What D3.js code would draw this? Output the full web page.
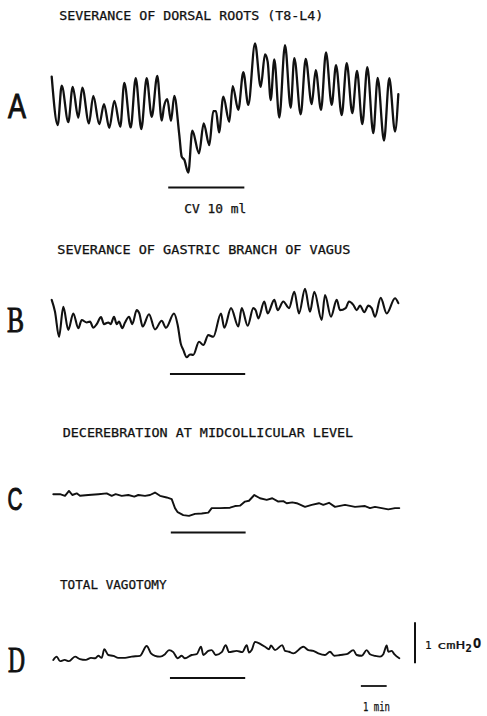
<!DOCTYPE html>
<html><head><meta charset="utf-8">
<script src="https://cdn.jsdelivr.net/npm/d3@7"></script>
<style>html,body{margin:0;padding:0;background:#fff;}svg{display:block;}</style>
</head><body>
<script>
// ---- data (time in s, pressure in cmH2O relative to pre-stimulus level) ----
const panelLetters = ["A","B","C","D"];
const panelTitles = [
  "SEVERANCE OF DORSAL ROOTS (T8-L4)",
  "SEVERANCE OF GASTRIC BRANCH OF VAGUS",
  "DECEREBRATION AT MIDCOLLICULAR LEVEL",
  "TOTAL VAGOTOMY"
];
const stimulusLabel = "CV 10 ml";

const timeA = [0,14,23.3,38.6,48.8,61.9,71.2,86.7,96.7,110.7,
  121.6,134,145.6,159.5,168.8,183.7,195.4,208.4,220.9,232.6,
  245.6,255.8,261.2,268.8,277.4,285.1,296.7,302.3,308.4,317.7,
  327,342.6,353.5,366.5,375.8,382.1,389.1,399.1,413,420.9,
  434,445.6,457.2,472.8,486.1,496.1,502.3,509.3,517.7,529.3,
  542.6,555.8,564.2,579.1,590.7,604.7,614,626.3,637.9,651.2,
  661.2,674.4,686.1,699.1,710,722.3,734,747.9,758.1,772.8,
  785.1,798.4,806.1];
const pressA = [0.57,-0.61,0.35,-0.54,0.32,-0.43,0.30,-0.57,0.10,-0.59,
  -0.10,-0.68,-0.02,-0.65,0.42,-0.67,0.53,-0.71,0.53,-0.41,
  0.59,-0.50,-0.16,0.02,-0.51,0.10,-0.85,-1.38,-1.46,-1.77,
  -0.75,-1.30,-0.57,-1.10,-0.27,-0.27,-0.79,0.08,-0.53,0.34,
  -0.24,0.68,-0.12,1.38,0.32,1.11,0.93,0,0.99,-0.43,
  1.34,-0.19,1.02,-0.35,1.00,-0.10,0.73,-0.24,1.16,-0.12,
  0.85,-0.37,0.90,-0.32,0.71,-0.59,0.80,-0.81,0.54,-0.99,
  0.53,-0.77,0.14];

const timeB = [0,7.7,17,27,38.6,50.2,61.9,69.8,81.4,
  89.1,96.7,104.7,114.7,121.6,131.6,137.2,144.9,151.2,156.5,
  164.2,170.5,179.8,187.4,197.7,203.7,211.6,226.3,240.2,255.8,
  265.8,284.4,293,300,306,314,321.6,329.3,342.6,352.6,
  364.2,375.8,393.7,401.4,417,434,441.9,455.8,468.8,474.4,
  480.5,494.4,502.3,517.7,525.6,538.6,551.9,564.2,575.1,589.1,
  600.7,610.7,627.9,635.6,649.5,662.8,670.5,683.7,691.4,701.4,
  709.3,717,727,736.3,744.2,751.9,765.1,779.1,798.4,806.1];
const pressB = [0.49,0.20,-0.41,0.32,-0.24,0.16,-0.20,0,-0.06,
  -0.04,-0.19,-0.10,0.07,-0.10,-0.06,-0.10,0.08,-0.10,-0.04,
  -0.20,-0.06,0.08,-0.10,0.24,0.16,-0.16,0.14,-0.23,-0.02,
  -0.19,0.16,-0.12,-0.57,-0.73,-0.91,-0.84,-0.85,-0.53,-0.61,
  -0.37,-0.41,0.16,-0.19,0.29,-0.16,0.29,-0.14,0.29,0.24,
  0.04,0.45,0.16,0.49,0.24,0.45,0.29,0.69,0.16,0.76,
  0.20,0.69,0,0.61,0.08,0.49,0.24,0.29,0.45,0.37,
  0.24,0.35,0.19,0.35,0.29,0.08,0.54,0.16,0.53,0.41];

const timeC = [3.7,19.3,30.9,40.2,47.9,58.1,65.8,85.1,108.4,127.9,
  139.5,148.8,162.8,178.1,192.1,201.4,217,228.6,240.2,251.9,
  267.4,279.1,286.7,293,306,319.3,333.3,348.8,364.2,372.1,
  391.4,414.7,426.3,437.9,449.5,458.8,471.2,484.4,500,513,
  527,538.6,546.5,559.5,569.8,589.1,604.7,621.6,631.6,644.9,
  658.8,682.1,705.4,728.6,740.2,751.9,767.4,782.8,798.4,808.4];
const pressC = [0.02,0.02,-0.02,0.10,0,0.04,-0.02,0,0.02,0.04,
  -0.02,0.02,-0.02,0,-0.04,0,-0.02,0,0.06,-0.02,
  -0.06,-0.10,-0.32,-0.42,-0.49,-0.51,-0.46,-0.45,-0.43,-0.32,
  -0.32,-0.31,-0.27,-0.26,-0.16,-0.14,0,-0.08,-0.12,-0.08,
  -0.16,-0.15,-0.20,-0.18,-0.20,-0.29,-0.24,-0.20,-0.24,-0.19,
  -0.29,-0.24,-0.29,-0.27,-0.32,-0.29,-0.32,-0.35,-0.32,-0.32];

const timeD = [3.7,11.6,19.3,30.2,40.2,54.2,65.8,79.1,91.4,100.7,
  108.4,116.3,122.3,131.6,143.3,154.9,170.5,186,205.4,220.9,
  230.9,240.2,251.9,263.5,272.8,282.8,293,302.3,310,325.6,
  337.2,347.2,352.6,364.2,372.1,381.4,395.4,404.7,412.3,430.2,
  443.3,453.5,458.8,465.1,472.8,486.7,496.1,505.4,510,519.3,
  536.3,542.6,551.9,561.9,585.1,596.8,608.4,620,635.6,647.2,
  657.2,670.5,686.1,701.4,709.3,720.9,732.6,740.2,751.9,763.5,
  771.2,779.1,782.8,790.7,796.7,808.4];
const pressD = [-0.12,-0.04,-0.15,-0.12,-0.15,-0.04,-0.10,-0.12,-0.07,-0.08,
  -0.02,-0.07,0.14,0,-0.02,-0.07,-0.07,-0.04,-0.02,0.22,
  0.04,-0.02,-0.04,0.02,0.12,0.07,-0.08,-0.02,-0.08,0,
  0.02,0.20,0,0.10,0.12,0,0.07,0.24,0.07,0.10,
  0.07,0.24,0.06,0.12,0.32,0.26,0.20,0.14,0.23,0.12,
  0.24,0.10,0.08,0.04,0.20,0.12,0.10,0.04,0,0.08,
  -0.02,0,0.02,0.12,0,-0.02,0.12,0.02,-0.02,-0.04,
  0.02,0.23,0.08,0.10,0.02,-0.08];

const stimA = [271, 448];
const stimB = [275, 450];
const stimC = [277, 451];
const stimD = [275, 450];
const timeScaleBar = [719, 779];      // 1 min
const timeScaleLabel = "1 min";
const pressureScaleBar = [-0.2, 0.8]; // 1 cmH2O
const pressureLabel = ["1", "cmH", "2", "O"];

// ---- layout ----
const W = 487, H = 716;
const svg = d3.select("body").append("svg").attr("width", W).attr("height", H);
const ink = "#111";

const x = d3.scaleLinear().domain([0, 60]).range([51.7, 77.5]);
const PX_PER_CM = 41;
const panels = [
  {letter: panelLetters[0], title: panelTitles[0], t: timeA, p: pressA, stim: stimA,
   y0: 100, barY: 187.5, titleX: 59.3, titleY: 19.5, titleW: 264, sw: 2.3, curve: d3.curveMonotoneX,
   lx: 8, ly: 117.5, lw: 18, lfont: "Liberation Sans", lsize: 35},
  {letter: panelLetters[1], title: panelTitles[1], t: timeB, p: pressB, stim: stimB,
   y0: 320, barY: 374, titleX: 57.3, titleY: 254, titleW: 293, sw: 2.1, curve: d3.curveMonotoneX,
   lx: 7, ly: 332, lw: 17, lfont: "Liberation Serif", lsize: 35},
  {letter: panelLetters[2], title: panelTitles[2], t: timeC, p: pressC, stim: stimC,
   y0: 495, barY: 532.5, titleX: 62.7, titleY: 437, titleW: 290.5, sw: 1.9, curve: d3.curveLinear,
   lx: 7.5, ly: 509.5, lw: 15, lfont: "Liberation Sans", lsize: 31},
  {letter: panelLetters[3], title: panelTitles[3], t: timeD, p: pressD, stim: stimD,
   y0: 655, barY: 678, titleX: 60, titleY: 589, titleW: 106.5, sw: 1.9, curve: d3.curveMonotoneX,
   lx: 8, ly: 672, lw: 17, lfont: "Liberation Serif", lsize: 35}
];

panels.forEach(P => {
  const y = d3.scaleLinear().domain([0, 1]).range([P.y0, P.y0 - PX_PER_CM]);
  P.y = y;
  const g = svg.append("g");
  g.append("text")
    .attr("x", P.titleX).attr("y", P.titleY)
    .attr("font-family", "DejaVu Sans Mono").attr("font-size", 12)
    .attr("textLength", P.titleW).attr("lengthAdjust", "spacingAndGlyphs")
    .attr("fill", ink).attr("stroke", ink).attr("stroke-width", 0.25)
    .text(P.title);
  g.append("text")
    .attr("x", P.lx).attr("y", P.ly)
    .attr("font-family", P.lfont).attr("font-size", P.lsize)
    .attr("textLength", P.lw).attr("lengthAdjust", "spacingAndGlyphs")
    .attr("fill", ink).attr("stroke", ink).attr("stroke-width", 1)
    .text(P.letter);
  const line = d3.line().x(d => x(d[0])).y(d => y(d[1])).curve(P.curve);
  g.append("path").datum(d3.zip(P.t, P.p))
    .attr("d", line).attr("fill", "none").attr("stroke", ink)
    .attr("stroke-width", P.sw).attr("stroke-linejoin", "round").attr("stroke-linecap", "round");
  g.append("line")
    .attr("x1", x(P.stim[0])).attr("x2", x(P.stim[1]))
    .attr("y1", P.barY).attr("y2", P.barY)
    .attr("stroke", ink).attr("stroke-width", 2);
});

// stimulus label under A
svg.append("text")
  .attr("x", 184.3).attr("y", 212.5)
  .attr("font-family", "DejaVu Sans Mono").attr("font-size", 11.5)
  .attr("textLength", 62).attr("lengthAdjust", "spacingAndGlyphs")
  .attr("fill", ink).attr("stroke", ink).attr("stroke-width", 0.25)
  .text(stimulusLabel);

// time scale bar
svg.append("line")
  .attr("x1", x(timeScaleBar[0])).attr("x2", x(timeScaleBar[1]))
  .attr("y1", 686).attr("y2", 686)
  .attr("stroke", ink).attr("stroke-width", 1.8);
svg.append("text")
  .attr("x", 363).attr("y", 711)
  .attr("font-family", "DejaVu Sans Mono").attr("font-size", 11.5)
  .attr("textLength", 27).attr("lengthAdjust", "spacingAndGlyphs")
  .attr("fill", ink).attr("stroke", ink).attr("stroke-width", 0.25)
  .text(timeScaleLabel);

// pressure scale bar (on panel D's scale)
const yD = panels[3].y;
svg.append("line")
  .attr("x1", 415).attr("x2", 415)
  .attr("y1", yD(pressureScaleBar[0])).attr("y2", yD(pressureScaleBar[1]))
  .attr("stroke", ink).attr("stroke-width", 2);
const pl = svg.append("text")
  .attr("y", 649)
  .attr("font-family", "DejaVu Sans Mono").attr("font-size", 11)
  .attr("fill", ink).attr("stroke", ink).attr("stroke-width", 0.2);
pl.append("tspan").attr("x", 425).text(pressureLabel[0]);
pl.append("tspan").attr("x", 437).attr("textLength", 28).attr("lengthAdjust", "spacingAndGlyphs").text(pressureLabel[1]);
pl.append("tspan").attr("x", 465.5).attr("dy", 3).attr("font-weight", "bold").attr("font-size", 10.5).text(pressureLabel[2]);
pl.append("tspan").attr("x", 473).attr("dy", -4).attr("font-weight", "bold").attr("font-size", 13.5).text(pressureLabel[3]);
</script>
</body></html>
